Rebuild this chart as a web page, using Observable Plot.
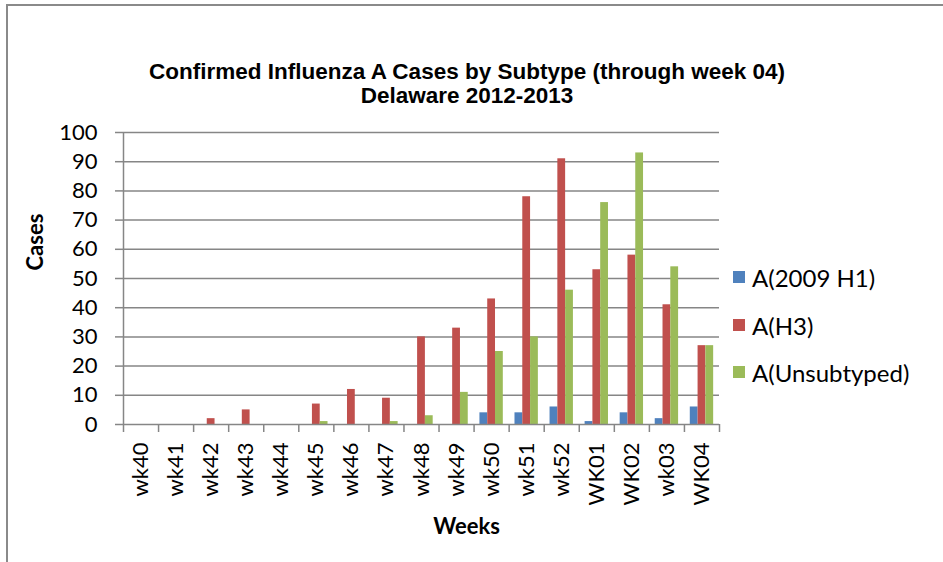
<!DOCTYPE html>
<html>
<head>
<meta charset="utf-8">
<script src="https://cdn.jsdelivr.net/npm/d3@7"></script>
<script src="https://cdn.jsdelivr.net/npm/@observablehq/plot@0.6"></script>
<style>
  html, body { margin: 0; padding: 0; background: #fff; }
  #wrap { position: relative; width: 943px; height: 562px; overflow: hidden; background: #fff; }
  #frame { position: absolute; left: 6px; top: 4px; width: 960px; height: 600px;
           border-top: 2px solid #8a8a8a; border-left: 2px solid #8a8a8a; box-sizing: border-box; }
  #title { position: absolute; left: 0; top: 60px; width: 934px; text-align: center;
           font-family: "Liberation Sans", Arial, sans-serif; font-weight: bold; font-size: 22.5px; line-height: 24px; color: #000; }
  #legend { position: absolute; left: 733px; top: 0; font-family: Lato, sans-serif; font-size: 24px; color: #000; }
  .item { position: absolute; left: 0; white-space: nowrap; display: flex; align-items: center; height: 30px; }
  .sw { width: 12px; height: 12px; margin-right: 7px; }
  #chart { position: absolute; left: 0; top: 0; }
</style>
</head>
<body>
<div id="wrap">
  <div id="frame"></div>
  <div id="chart"></div>
  <div id="title">Confirmed Influenza A Cases by Subtype (through week 04)<br>Delaware 2012-2013</div>
  <div id="legend"></div>
</div>
<script>
const weeks = ["wk40","wk41","wk42","wk43","wk44","wk45","wk46","wk47","wk48","wk49","wk50","wk51","wk52","WK01","WK02","wk03","WK04"];
const series = ["A(2009 H1)", "A(H3)", "A(Unsubtyped)"];
const h1Values    = [0,0,0,0,0,0,0,0,0,0,4,4,6,1,4,2,6];
const h3Values    = [0,0,2,5,0,7,12,9,30,33,43,78,91,53,58,41,27];
const unsubValues = [0,0,0,0,0,1,0,1,3,11,25,30,46,76,93,54,27];
const yTicks = [0,10,20,30,40,50,60,70,80,90,100];
const colors = ["#4F81BD", "#C0504D", "#9BBB59"];

const values = [h1Values, h3Values, unsubValues];
const GAP = 1.5; // Excel gap width (150%)
const rows = weeks.flatMap((w, i) => series.map((s, j) => ({week: w, i, j, series: s, value: values[j][i]})));

const grey = "#868686";
const tickFont = "Lato, sans-serif";

const chart = Plot.plot({
  width: 943,
  height: 562,
  marginLeft: 123,
  marginRight: 224,
  marginTop: 132,
  marginBottom: 138,
  style: {fontFamily: tickFont, background: "transparent", overflow: "visible"},
  x: {domain: [0, weeks.length], axis: null, label: null},
  y: {domain: [0, 100], axis: null, label: null},
  color: {domain: series, range: colors},
  marks: [
    Plot.gridY(yTicks.filter(d => d > 0), {stroke: grey, strokeOpacity: 1, strokeWidth: 1.5}),
    Plot.rectY(rows, {
      x1: d => d.i + (GAP / 2 + d.j) / (series.length + GAP),
      x2: d => d.i + (GAP / 2 + d.j + 1) / (series.length + GAP),
      y: "value",
      fill: "series"
    }),
    Plot.ruleX([0], {stroke: grey, strokeWidth: 1.5}),
    Plot.ruleY([0], {stroke: grey, strokeWidth: 1.5}),
    Plot.axisY(yTicks, {label: null, tickSize: 8, tickPadding: 18, fontSize: 22, stroke: grey, strokeWidth: 1.5, fill: "#000", fontFamily: tickFont}),
    Plot.axisX(d3.range(weeks.length + 1), {label: null, tickSize: 8, tickFormat: () => "", stroke: grey, strokeWidth: 1.5}),
    Plot.axisX(weeks.map((w, i) => i + 0.5), {label: null, tickSize: 0, tickPadding: 18, tickRotate: -90, tickFormat: v => weeks[Math.floor(v)], fontSize: 22, fill: "#000", fontFamily: tickFont}),
    Plot.text(["Cases"], {frameAnchor: "left", dx: -88, dy: -8, rotate: -90, text: d => d, fontWeight: "bold", fontSize: 22, fill: "#000"}),
    Plot.text(["Weeks"], {frameAnchor: "bottom", dx: 45, dy: 109, text: d => d, fontWeight: "bold", fontSize: 22, fill: "#000"})
  ]
});
document.getElementById("chart").appendChild(chart);

const legend = document.getElementById("legend");
const legendY = [277, 325, 372];
series.forEach((s, j) => {
  const item = document.createElement("div");
  item.className = "item";
  item.style.top = (legendY[j] - 15) + "px";
  const sw = document.createElement("div");
  sw.className = "sw";
  sw.style.background = colors[j];
  const t = document.createElement("span");
  t.textContent = s;
  item.appendChild(sw);
  item.appendChild(t);
  legend.appendChild(item);
});
</script>
</body>
</html>
